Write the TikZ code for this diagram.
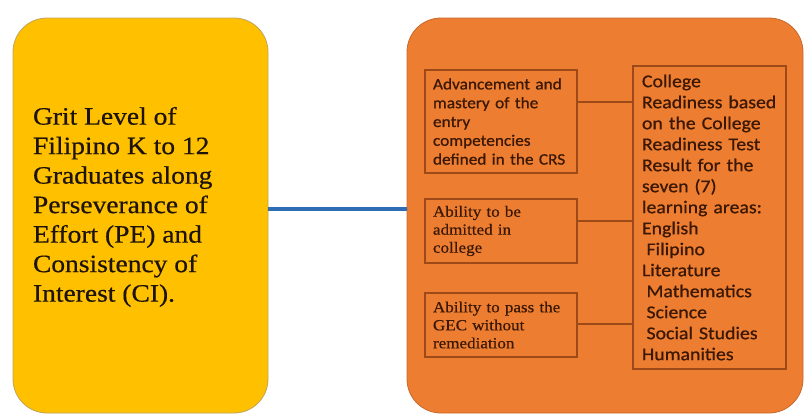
\documentclass[tikz,border=0pt]{standalone}
\usepackage{fontspec}
\setmainfont{Liberation Serif}[FakeStretch=1.1, FakeBold=0.5]
\newfontfamily\calibri{Carlito}[FakeStretch=1.08, FakeBold=0.7]
\newfontfamily\calibriwide{Carlito}[FakeStretch=1.1, FakeBold=0.7]
\usepackage{tikz}
\usetikzlibrary{positioning}

\definecolor{gritFill}{HTML}{FFC000}
\definecolor{gritEdge}{HTML}{BFA45A}
\definecolor{readyFill}{HTML}{ED7D31}
\definecolor{readyEdge}{HTML}{C8682A}
\definecolor{itemEdge}{HTML}{9E4A18}
\definecolor{itemText}{HTML}{3A1804}
\definecolor{linkBlue}{HTML}{2E6DB4}

\begin{document}
\begin{tikzpicture}[
            x = 1pt, y = -1pt,
            every node/.style = {
                inner sep = 0pt,
                outer sep = 0pt
            },
            panel/.style = {
                anchor = north west,
                rounded corners = 34pt,
                line width = 0.8pt,
                minimum height = 395pt
            },
            item/.style = {
                draw = itemEdge,
                line width = 1.3pt,
                anchor = north west,
                minimum width = 152pt,
                inner xsep = 8pt,
                text width = 136pt,
                align = left,
                text = itemText
            },
            serifitem/.style = {
                item,
                font = \fontsize{15.5}{18}\selectfont
            },
            sansitem/.style = {
                item,
                font = \calibri\fontsize{16}{18.8}\selectfont
            },
            link/.style = {
                draw = itemEdge,
                line width = 1.3pt
            }
        ]
            \useasboundingbox (0,0) rectangle (804,413);

            % the two big panels
            \node[panel, fill = gritFill, draw = gritEdge,
                  minimum width = 255pt] (grit) at (13,18) {};
            \node[panel, fill = readyFill, draw = readyEdge,
                  minimum width = 396pt] (ready) at (407,18) {};

            \node[anchor = north west, align = left, text = black!85!brown,
                  font = \fontsize{25}{29.5}\selectfont] (gritText) at (33,107) {
                Grit Level of \\
                Filipino K to 12 \\
                Graduates along \\
                Perseverance of \\
                Effort (PE) and \\
                Consistency of \\
                Interest (CI).
            };

            \draw[linkBlue, line width = 4.5pt]
                ([yshift = 6.5pt]grit.east) -- ([yshift = 6.5pt]ready.west);

            % indicators
            \node[sansitem, minimum height = 103pt] (mastery) at (425,70) {
                Advancement~and \\
                mastery~of~the \\
                entry \\
                competencies \\
                defined~in~the~CRS
            };
            \node[serifitem, minimum height = 64pt] (admit) at (425,199) {
                Ability~to~be \\
                admitted~in \\
                college
            };
            \node[serifitem, minimum height = 64pt] (gec) at (425,293) {
                Ability~to~pass~the \\
                GEC~without \\
                remediation
            };

            \node[item, minimum width = 153pt, minimum height = 303pt,
                  inner xsep = 9pt, text width = 135pt,
                  font = \calibriwide\fontsize{18}{21}\selectfont] (crt) at (633,66) {
                College \\
                Readiness~based \\
                on~the~College \\
                Readiness~Test \\
                Result~for~the \\
                seven~(7) \\
                learning~areas: \\
                English \\
                \hspace*{.25em}Filipino \\
                Literature \\
                \hspace*{.25em}Mathematics \\
                \hspace*{.25em}Science \\
                \hspace*{.25em}Social~Studies \\
                Humanities
            };

            \draw[link] ([yshift = 19.5pt]mastery.east) -- ([yshift = 19.5pt]mastery.east -| crt.west);
            \draw[link] ([yshift = 10pt]admit.east) -- ([yshift = 10pt]admit.east -| crt.west);
            \draw[link] ([yshift = 1pt]gec.east) -- ([yshift = 1pt]gec.east -| crt.west);
        \end{tikzpicture}
\end{document}
